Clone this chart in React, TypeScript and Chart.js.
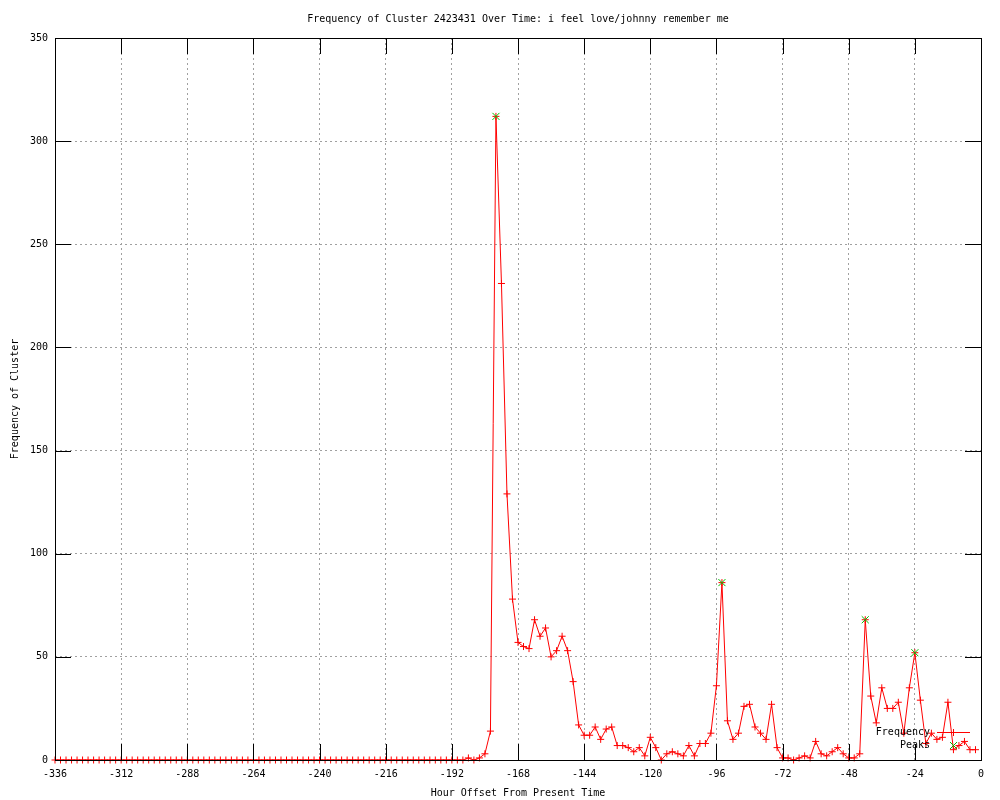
import React, { useEffect, useRef } from 'react';
import { Chart, registerables } from 'chart.js';

Chart.register(...registerables);

const chartTitle = 'Frequency of Cluster 2423431 Over Time: i feel love/johnny remember me';
const xTitle = 'Hour Offset From Present Time';
const yTitle = 'Frequency of Cluster';

const hours = [
  -336, -334, -332, -330, -328, -326, -324, -322, -320, -318, -316, -314,
  -312, -310, -308, -306, -304, -302, -300, -298, -296, -294, -292, -290,
  -288, -286, -284, -282, -280, -278, -276, -274, -272, -270, -268, -266,
  -264, -262, -260, -258, -256, -254, -252, -250, -248, -246, -244, -242,
  -240, -238, -236, -234, -232, -230, -228, -226, -224, -222, -220, -218,
  -216, -214, -212, -210, -208, -206, -204, -202, -200, -198, -196, -194,
  -192, -190, -188, -186, -184, -182, -180, -178, -176, -174, -172, -170,
  -168, -166, -164, -162, -160, -158, -156, -154, -152, -150, -148, -146,
  -144, -142, -140, -138, -136, -134, -132, -130, -128, -126, -124, -122,
  -120, -118, -116, -114, -112, -110, -108, -106, -104, -102, -100, -98,
  -96, -94, -92, -90, -88, -86, -84, -82, -80, -78, -76, -74,
  -72, -70, -68, -66, -64, -62, -60, -58, -56, -54, -52, -50,
  -48, -46, -44, -42, -40, -38, -36, -34, -32, -30, -28, -26,
  -24, -22, -20, -18, -16, -14, -12, -10, -8, -6, -4, -2,
];

const frequency = [
  0, 0, 0, 0, 0, 0, 0, 0, 0, 0, 0, 0,
  0, 0, 0, 0, 0, 0, 0, 0, 0, 0, 0, 0,
  0, 0, 0, 0, 0, 0, 0, 0, 0, 0, 0, 0,
  0, 0, 0, 0, 0, 0, 0, 0, 0, 0, 0, 0,
  0, 0, 0, 0, 0, 0, 0, 0, 0, 0, 0, 0,
  0, 0, 0, 0, 0, 0, 0, 0, 0, 0, 0, 0,
  0, 0, 0, 1, 0, 1, 3, 14, 312, 231, 129, 78,
  57, 55, 54, 68, 60, 64, 50, 53, 60, 53, 38, 17,
  12, 12, 16, 10, 15, 16, 7, 7, 6, 4, 6, 2,
  11, 6, 0, 3, 4, 3, 2, 7, 2, 8, 8, 13,
  36, 86, 19, 10, 13, 26, 27, 16, 13, 10, 27, 6,
  1, 1, 0, 1, 2, 1, 9, 3, 2, 4, 6, 3,
  1, 1, 3, 68, 31, 18, 35, 25, 25, 28, 13, 35,
  52, 29, 8, 13, 10, 11, 28, 5, 7, 9, 5, 5,
];

const peakHours = [-176, -94, -42, -24];
const peakValues = [312, 86, 68, 52];

const xMin = -336;
const xMax = 0;
const xStep = 24;
const yMin = 0;
const yMax = 350;
const yStep = 50;

const FONT = "'DejaVu Sans Mono', monospace";
const RED = '#ff0000';
const GREEN = '#00c000';

const framePlugin = {
  id: 'gnuplotFrame',
  afterDatasetsDraw(chart: any) {
    const { ctx, chartArea: a, scales } = chart;
    const L = 16;
    ctx.save();
    ctx.setLineDash([]);
    ctx.strokeStyle = '#000000';
    ctx.lineWidth = 1;
    ctx.beginPath();
    scales.x.ticks.forEach((t: any) => {
      const px = Math.round(scales.x.getPixelForValue(t.value)) + 0.5;
      ctx.moveTo(px, a.bottom);
      ctx.lineTo(px, a.bottom - L);
      ctx.moveTo(px, a.top);
      ctx.lineTo(px, a.top + L);
    });
    scales.y.ticks.forEach((t: any) => {
      const py = Math.round(scales.y.getPixelForValue(t.value)) + 0.5;
      ctx.moveTo(a.left, py);
      ctx.lineTo(a.left + L, py);
      ctx.moveTo(a.right, py);
      ctx.lineTo(a.right - L, py);
    });
    ctx.stroke();
    ctx.strokeRect(a.left + 0.5, a.top + 0.5, a.right - a.left, a.bottom - a.top);

    // key (bottom right, inside the plot)
    const ds = chart.data.datasets;
    const textRight = a.right - 51;
    const sampleL = a.right - 44;
    const sampleR = a.right - 11;
    const sampleC = (sampleL + sampleR) / 2;
    const row1 = a.bottom - 27.5;
    const row2 = a.bottom - 14.5;
    ctx.font = `10px ${FONT}`;
    ctx.fillStyle = '#000000';
    ctx.textAlign = 'right';
    ctx.textBaseline = 'middle';
    ctx.fillText(ds[1].label, textRight, row1);
    ctx.fillText(ds[0].label, textRight, row2);
    ctx.strokeStyle = RED;
    ctx.beginPath();
    ctx.moveTo(sampleL, row1);
    ctx.lineTo(sampleR, row1);
    ctx.moveTo(sampleC - 3.5, row1);
    ctx.lineTo(sampleC + 3.5, row1);
    ctx.moveTo(sampleC, row1 - 3.5);
    ctx.lineTo(sampleC, row1 + 3.5);
    ctx.stroke();
    ctx.strokeStyle = GREEN;
    ctx.beginPath();
    ctx.moveTo(sampleC - 3.5, row2 - 3.5);
    ctx.lineTo(sampleC + 3.5, row2 + 3.5);
    ctx.moveTo(sampleC - 3.5, row2 + 3.5);
    ctx.lineTo(sampleC + 3.5, row2 - 3.5);
    ctx.stroke();
    ctx.restore();
  },
};

export default function App() {
  const canvasRef = useRef<HTMLCanvasElement | null>(null);

  useEffect(() => {
    const canvas = canvasRef.current;
    if (!canvas) return;
    const freqPoints = hours.map((h, i) => ({ x: h, y: frequency[i] }));
    const peakPoints = peakHours.map((h, i) => ({ x: h, y: peakValues[i] }));

    const chart = new Chart(canvas, {
      type: 'line',
      data: {
        datasets: [
          {
            label: 'Peaks',
            data: peakPoints,
            showLine: false,
            pointStyle: 'crossRot',
            pointRadius: 5,
            pointBorderWidth: 1,
            pointBorderColor: GREEN,
            pointBackgroundColor: GREEN,
            borderColor: GREEN,
            order: 1,
            clip: false,
          },
          {
            label: 'Frequency',
            data: freqPoints,
            borderColor: RED,
            borderWidth: 1,
            tension: 0,
            pointStyle: 'cross',
            pointRadius: 3.5,
            pointBorderWidth: 1,
            pointBorderColor: RED,
            pointBackgroundColor: RED,
            order: 2,
            clip: false,
          },
        ],
      },
      options: {
        responsive: false,
        animation: false,
        events: [],
        layout: { padding: { left: 0, right: 19, top: 0, bottom: 0 } },
        plugins: {
          legend: { display: false },
          tooltip: { enabled: false },
          title: {
            display: true,
            text: chartTitle,
            fullSize: false,
            color: '#000000',
            font: { family: FONT, size: 10, weight: 'normal', lineHeight: 1.2 },
            padding: { top: 13, bottom: 13 },
          },
        },
        scales: {
          x: {
            type: 'linear',
            min: xMin,
            max: xMax,
            afterFit: (scale: any) => {
              scale.height = 40;
            },
            ticks: {
              stepSize: xStep,
              color: '#000000',
              font: { family: FONT, size: 10 },
              padding: 8,
              maxRotation: 0,
              autoSkip: false,
              callback: (v: any) => String(v),
            },
            grid: { color: '#a0a0a0', drawTicks: false, lineWidth: 1 },
            border: { display: false, dash: [2, 3] },
            title: {
              display: true,
              text: xTitle,
              color: '#000000',
              font: { family: FONT, size: 10, lineHeight: 1.2 },
              padding: { top: 0, bottom: 1 },
            },
          },
          y: {
            type: 'linear',
            min: yMin,
            max: yMax,
            afterFit: (scale: any) => {
              scale.width = 55;
            },
            ticks: {
              stepSize: yStep,
              color: '#000000',
              font: { family: FONT, size: 10 },
              padding: 7,
              callback: (v: any) => String(v),
            },
            grid: { color: '#a0a0a0', drawTicks: false, lineWidth: 1 },
            border: { display: false, dash: [2, 3] },
            title: {
              display: true,
              text: yTitle,
              color: '#000000',
              font: { family: FONT, size: 10, lineHeight: 1.2 },
              padding: { top: 9, bottom: 0 },
            },
          },
        },
      },
      plugins: [framePlugin],
    } as any);

    return () => {
      chart.destroy();
    };
  }, []);

  return (
    <div style={{ position: 'absolute', left: 0, top: 0, width: 1000, height: 800, background: '#ffffff' }}>
      <canvas ref={canvasRef} width={1000} height={800} style={{ display: 'block', width: 1000, height: 800 }} />
    </div>
  );
}
